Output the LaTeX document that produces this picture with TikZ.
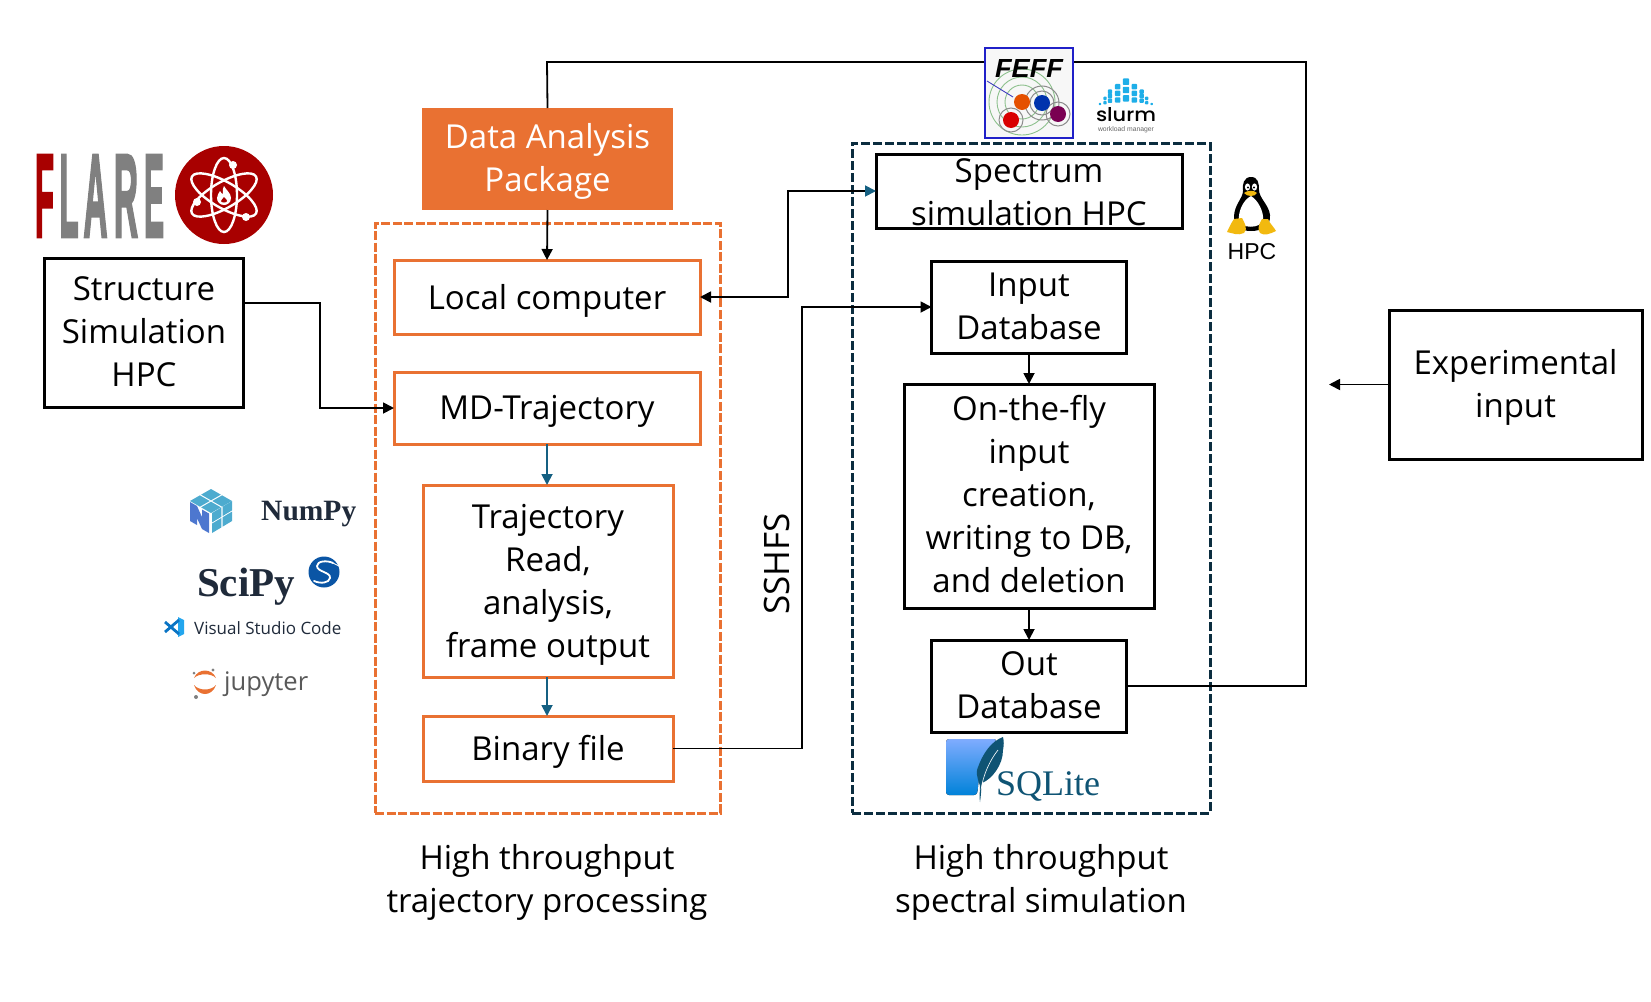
\documentclass[tikz,border=0pt]{standalone}
\usepackage{graphicx}
\usepackage{fontspec}
\setmainfont{Open Sans}
\newfontfamily\serifbold{Liberation Serif}[BoldFont={* Bold}]
\newfontfamily\arialish{Liberation Sans}[BoldFont={* Bold}]
\newfontfamily\fatsans{Liberation Sans Bold}[FakeBold=3]
\usetikzlibrary{arrows.meta,calc}
\newcommand{\dnsp}[1]{\rule{0pt}{#1pt}}
\newcommand{\upsp}[1]{\rule[-#1pt]{0pt}{#1pt}}
\definecolor{orangeA}{HTML}{E97132}
\definecolor{navyA}{HTML}{0B2D3F}
\definecolor{tealA}{HTML}{156082}
\definecolor{flareRed}{HTML}{A80000}
\definecolor{flareGray}{HTML}{808080}
\definecolor{npDark}{HTML}{4D77CF}
\definecolor{npLight}{HTML}{4DABCF}
\definecolor{pyInk}{HTML}{1F2A3A}
\definecolor{sqlInk}{HTML}{0F5474}
\tikzset{
  base/.style={inner sep=0pt,outer sep=0pt,align=center,font=\fontsize{33}{43}\selectfont},
  blackbox/.style={base,draw=black,line width=3pt},
  orangebox/.style={base,draw=orangeA,line width=3pt},
  conn/.style={draw=black,line width=1.8pt},
  tip/.style={-{Triangle[length=11pt,width=11pt]}},
  tealtip/.style={conn,-{Triangle[length=11pt,width=11pt,color=tealA]},draw=tealA},
  caption/.style={inner sep=0pt,align=center,font=\fontsize{33}{43}\selectfont}
}
\begin{document}
\begin{tikzpicture}[x=1pt,y=-1pt]
\useasboundingbox (0,0) rectangle (1651,1001);

% dashed containers
\node[base,draw=orangeA,line width=3pt,dash pattern=on 9pt off 2.5pt,minimum width=345pt,minimum height=590pt] (leftgroup) at (547.5,518) {};
\node[base,draw=navyA,line width=3pt,dash pattern=on 9pt off 3pt,minimum width=358pt,minimum height=670pt] (rightgroup) at (1031,478) {};

% main boxes
\node[base,fill=orangeA,text=white,minimum width=251pt,minimum height=102pt] (data) at (547.5,159) {\dnsp{29}Data Analysis\\Package};
\node[orangebox,minimum width=306pt,minimum height=74pt] (local) at (547,297) {\dnsp{33}Local computer};
\node[orangebox,minimum width=306pt,minimum height=72pt] (md) at (547,408) {\dnsp{31}MD-Trajectory};
\node[orangebox,minimum width=250pt,minimum height=192pt] (traj) at (548,581) {\dnsp{31}Trajectory\\Read,\\analysis,\\frame output};
\node[orangebox,minimum width=250pt,minimum height=65pt] (binary) at (548,748.5) {\dnsp{31}Binary file};
\node[blackbox,minimum width=199pt,minimum height=149pt] (structure) at (144,332.5) {Structure\\Simulation\\HPC\upsp{2}};
\node[blackbox,minimum width=306pt,minimum height=74pt] (spectrum) at (1029,191) {\dnsp{27}Spectrum\\simulation HPC};
\node[blackbox,minimum width=195pt,minimum height=92pt] (input) at (1029,307) {Input\\Database\upsp{2}};
\node[blackbox,minimum width=250pt,minimum height=224pt] (otf) at (1029,496) {On-the-fly\\input\\creation,\\writing to DB,\\and deletion\upsp{4}};
\node[blackbox,minimum width=195pt,minimum height=92pt] (out) at (1029,686) {Out\\Database\upsp{2}};
\node[blackbox,minimum width=253pt,minimum height=149pt] (exp) at (1515.5,384.5) {\dnsp{31}Experimental\\input};

% free ends and bends
\coordinate (structout) at (244,303);
\coordinate (structbend) at (320,303);
\coordinate (lsbend) at (788,192);
\coordinate (bibend) at (802,748);
\coordinate (fbright) at (1306,686);
\coordinate (fbtop) at (1306,62);
\coordinate (fbleft) at (547,62);
\coordinate (expend) at (1329,384.5);

% connectors
\draw[conn] (out.east) -- (fbright) -- (fbtop) -- (fbleft) -- (data.north);
\draw[conn,tip] (data.south) -- (local.north);
\draw[conn,tip] (structout) -- (structbend) -- (structbend |- md.west) -- (md.west);
\draw[conn,{Triangle[length=11pt,width=11pt]}-{Triangle[length=11pt,width=11pt,color=tealA]}] (local.east) -- (local.east -| lsbend) -- (lsbend |- spectrum.west) -- (spectrum.west);
\draw[conn,tip] (binary.east) -- (binary.east -| bibend) -- (bibend |- input.west) -- (input.west);
\draw[tealtip] (md.south) -- (md.south |- traj.north);
\draw[tealtip] (md.south |- traj.south) -- (md.south |- binary.north);
\draw[conn,tip] (input.south) -- (otf.north);
\draw[conn,tip] (otf.south) -- (out.north);
\draw[conn,tip] (exp.west) -- (expend);

% labels
\node[caption,rotate=90,font=\fontsize{35}{36}\selectfont] (sshfs) at (777,564) {SSHFS};
\node[caption] (capleft) at (547,882) {High throughput\\trajectory processing};
\node[caption] (capright) at (1041,882) {High throughput\\spectral simulation};

% FLARE logo
\node[inner sep=0pt,text=flareRed] (flF) at (44.5,196) {\resizebox{19pt}{81pt}{\fatsans F}};
\node[inner sep=0pt,text=flareGray] (flL) at (69,196) {\resizebox{19pt}{81pt}{\fatsans L}};
\node[inner sep=0pt,text=flareGray] (flA) at (95.5,196) {\resizebox{24pt}{81pt}{\fatsans A}};
\node[inner sep=0pt,text=flareGray] (flR) at (126,196) {\resizebox{24pt}{81pt}{\fatsans R}};
\node[inner sep=0pt,text=flareGray] (flE) at (154,196) {\resizebox{20pt}{81pt}{\fatsans E}};
\fill[flareRed] (224,195) circle [radius=49];
\begin{scope}[draw=white,line width=2.4pt]
\draw (224,195) ellipse [x radius=37,y radius=13,rotate=30];
\draw (224,195) ellipse [x radius=37,y radius=13,rotate=-30];
\draw (224,195) ellipse [x radius=37,y radius=13,rotate=90];
\end{scope}
\fill[white] (233,165) circle [radius=4] (197,202) circle [radius=4] (246,217) circle [radius=4];
\fill[flareRed] (224,196) circle [radius=10];
\fill[white] (224,186) .. controls (226,190) and (231,193) .. (231,198) .. controls (231,203) and (227,205) .. (224,205) .. controls (220,205) and (217,202) .. (217,198) .. controls (217,195) and (219,193) .. (220,191) .. controls (221,193) and (222,194) .. (223,194) .. controls (222,191) and (223,188) .. (224,186) -- cycle;
\fill[flareRed] (224,197) .. controls (226,199) and (227,200) .. (227,201) .. controls (227,203) and (221,203) .. (221,201) .. controls (221,200) and (223,199) .. (224,197) -- cycle;

% NumPy logo
\begin{scope}[shift={(211,489)},x={(21pt,-12pt)},y={(-21pt,-12pt)}]
\foreach \u/\v in {0/0,0.53/0,0/0.53,0.53/0.53}
  \fill[npLight] (\u,\v) -- ++(0.47,0) -- ++(0,0.47) -- ++(-0.47,0) -- cycle;
\end{scope}
\begin{scope}[shift={(212,533)},x={(20pt,12pt)},y={(0pt,20pt)}]
\foreach \u/\v in {0/0,0.53/0,0/0.53,0.53/0.53}
  \fill[npLight] (\u,\v) -- ++(0.47,0) -- ++(0,0.47) -- ++(-0.47,0) -- cycle;
\end{scope}
\fill[npDark] (190,502) -- (197,506) -- (202,517) -- (202,509.5) -- (209,513.5) -- (209,533) -- (202,529) -- (197,518) -- (197,525) -- (190,521) -- cycle;
\node[inner sep=0pt,anchor=west,text=pyInk] (numpy) at (261,514) {\fontsize{29.5}{30}\serifbold\bfseries NumPy};

% SciPy logo
\node[inner sep=0pt,anchor=base west,text=pyInk] (scipy) at (197,596) {\fontsize{41}{42}\serifbold\bfseries SciPy};
\definecolor{scipyblue}{HTML}{0A55A5}
\fill[scipyblue] (324,572) circle [radius=15.5];
\draw[white,line width=1.8pt,line cap=round] (333,563) .. controls (327,560) and (317,561) .. (317,566) .. controls (317,572) and (331,572) .. (330,578) .. controls (329,583) and (321,584) .. (314,581);
\draw[white,line width=0.9pt] (333,563) -- (339,566);

% VS Code
\definecolor{vsA}{HTML}{23A6EE}
\definecolor{vsB}{HTML}{0A74C4}
\fill[vsA] (178,617) -- (184,620) -- (184,634) -- (178,637) -- cycle;
\draw[vsB,line width=2.8pt] (179,620) -- (165,632);
\draw[vsB,line width=2.8pt] (165,622) -- (179,634);
\node[inner sep=0pt,anchor=west,text=pyInk] (vscode) at (194,628) {\fontsize{17}{18}\selectfont Visual Studio Code};

% Jupyter
\fill[orangeA] (194,678) .. controls (198,668) and (212,668) .. (216,678) .. controls (211,673) and (199,673) .. (194,678) -- cycle;
\fill[orangeA] (194,685) .. controls (198,697) and (212,697) .. (216,685) .. controls (211,691) and (199,691) .. (194,685) -- cycle;
\fill[gray] (194,673) circle [radius=1.5] (213,670) circle [radius=1.6] (196,697) circle [radius=2];
\node[inner sep=0pt,anchor=base west,text=black!65] (jupyter) at (224,690) {\fontsize{26}{27}\selectfont\resizebox{84pt}{!}{jupyter}};

% FEFF logo
\node[inner sep=0pt,outer sep=0pt,draw={rgb,255:red,32;green,32;blue,200},fill=black!3,line width=2.8pt,minimum width=88pt,minimum height=90pt] (feff) at (1029,93) {};
\begin{scope}
\clip (feff.south west) rectangle (feff.north east);
\draw[green!45!black!45,line width=0.9pt] (1022,102) circle [radius=17] (1022,102) circle [radius=25] (1022,102) circle [radius=33];
\draw[blue!50!gray,line width=0.9pt] (987,81) -- (1013,97);
\draw[black!45,line width=1pt] (1042,103) circle [radius=12] (1042,103) circle [radius=17] (1058,114) circle [radius=12] (1011,120) circle [radius=12];
\fill[orange!70!red!90!black] (1022,102) circle [radius=8];
\fill[blue!60!black!80!cyan] (1042,103) circle [radius=8];
\fill[violet!80!red!80!black] (1058,114) circle [radius=8];
\fill[red!85!black] (1011,120) circle [radius=8];
\end{scope}
\node[inner sep=0pt] (fefft) at (1029,68) {\resizebox{68pt}{18pt}{\arialish\bfseries\itshape FEFF}};

% Slurm
\definecolor{slurmblue}{HTML}{1EAEE8}
\foreach \zx/\zy/\s in {498/155/3.2,498/180/3.2,498/205/3.2,473/170/2.7,473/190/2.7,473/210/2.7,523/170/2.7,523/190/2.7,523/210/2.7,450/185/2.2,450/198/2.2,450/212/2.2,545/185/2.2,545/198/2.2,545/212/2.2,435/205/1.7,435/218/1.7,560/205/1.7,560/218/1.7,420/222/1.2,575/222/1.2}
  \fill[slurmblue,rounded corners=0.8pt] ({960+\zx/3-\s},{30+\zy/3-\s}) rectangle ({960+\zx/3+\s},{30+\zy/3+\s});
\node[inner sep=0pt] (slurm) at (1126,115) {\resizebox{60pt}{14pt}{\fontspec{Poppins Medium}slurm}};
\node[inner sep=0pt,text=black!60] (slurmsub) at (1126,129.5) {\resizebox{56pt}{!}{\arialish workload manager}};

% Tux
\definecolor{tuxy}{HTML}{F2B90F}
\fill[black] (1251,177) .. controls (1244,177) and (1242,184) .. (1243,191) .. controls (1243,198) and (1234,205) .. (1234,217) .. controls (1234,226) and (1240,231) .. (1251,231) .. controls (1262,231) and (1271,226) .. (1270,215) .. controls (1269,205) and (1259,198) .. (1259,190) .. controls (1259,183) and (1258,177) .. (1251,177) -- cycle;
\fill[white] (1251,196) .. controls (1243,200) and (1238,212) .. (1239,220) .. controls (1240,229) and (1261,229) .. (1263,220) .. controls (1264,212) and (1258,200) .. (1251,196) -- cycle;
\fill[white] (1247.5,187) ellipse [x radius=2.6,y radius=3.6] (1254.5,187) ellipse [x radius=2.6,y radius=3.6];
\fill[black] (1248,187.5) circle [radius=1.2] (1254,187.5) circle [radius=1.2];
\fill[tuxy] (1244,193) .. controls (1248,190) and (1254,190) .. (1257,193) .. controls (1255,197) and (1247,197) .. (1244,193) -- cycle;
\fill[tuxy] (1234,219) -- (1242,218) .. controls (1245,224) and (1248,228) .. (1244,233) .. controls (1238,236) and (1232,233) .. (1227,232) .. controls (1229,228) and (1231,223) .. (1234,219) -- cycle;
\fill[tuxy] (1262,219) -- (1268,219) .. controls (1270,224) and (1274,227) .. (1276,231) .. controls (1270,234) and (1264,236) .. (1260,233) .. controls (1257,229) and (1259,224) .. (1262,219) -- cycle;
\node[inner sep=0pt] (hpc) at (1252,252) {\fontsize{23}{24}\arialish HPC};

% SQLite
\fill[rounded corners=3pt,top color=cyan!35!blue!50!white,bottom color=blue!40!cyan!85!black] (946,739) -- (997,739) -- (980,770) -- (977,795) -- (946,795) -- cycle;
\fill[sqlInk] (1003,737) .. controls (992,741) and (983,752) .. (977,770) .. controls (976,776) and (979,782) .. (980,786) .. controls (980,792) and (979,797) .. (980,802) .. controls (981,796) and (981,790) .. (982,783) .. controls (992,779) and (1003,765) .. (1003,750) .. controls (1004,745) and (1004,741) .. (1003,737) -- cycle;
\draw[white,line width=0.6pt] (998,750) .. controls (990,760) and (983,775) .. (981,790);
\node[inner sep=0pt,anchor=base west,text=sqlInk] (sqlite) at (996,795) {\fontsize{36}{37}\selectfont\serifbold SQLite};
\end{tikzpicture}
\end{document}
